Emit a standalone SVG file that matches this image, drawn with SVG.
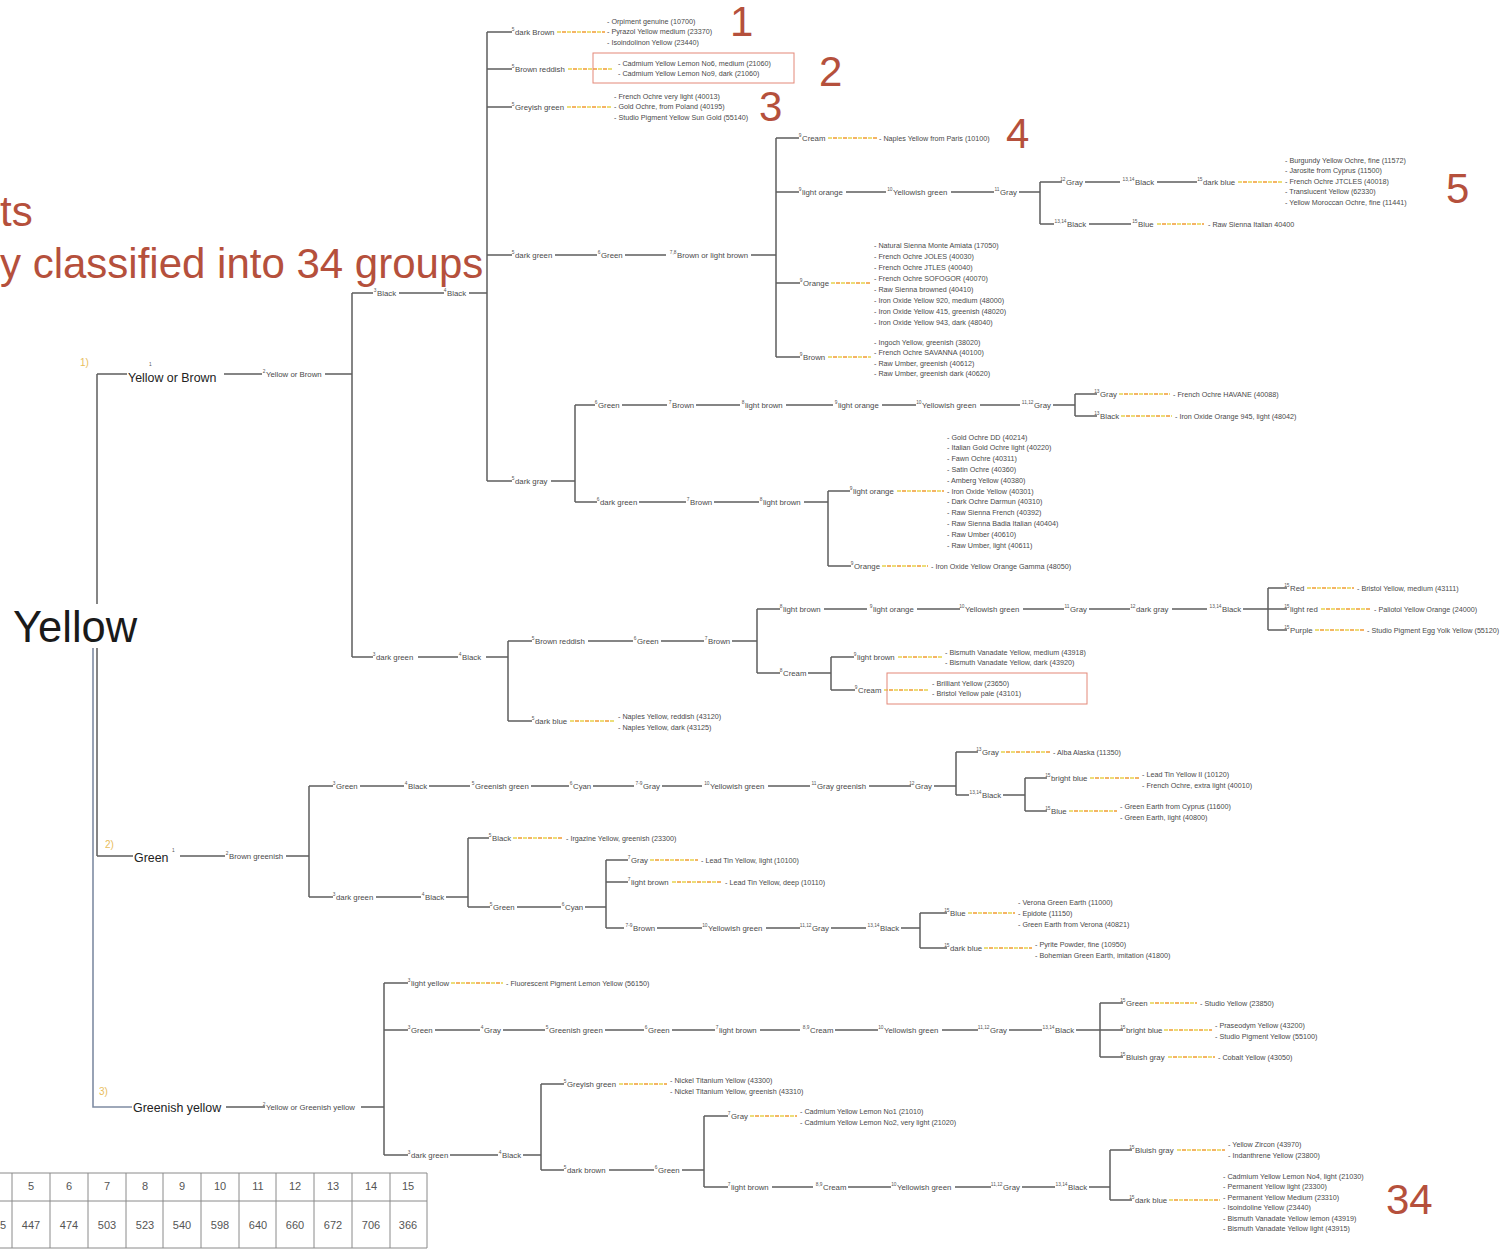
<svg xmlns="http://www.w3.org/2000/svg" width="1508" height="1250" viewBox="0 0 1508 1250">
<style>
text{font-family:"Liberation Sans",Arial,sans-serif}
.e{stroke:#5e5e5e;stroke-width:1.5;fill:none}
.tr{stroke:#7f8ca3;stroke-width:1.6;fill:none}
.dy{stroke:#e6d44c;stroke-width:1.5;fill:none;stroke-dasharray:4 6}
.do{stroke:#f29a34;stroke-width:1.5;fill:none;stroke-dasharray:4 6;stroke-dashoffset:5}
.n{font-size:7.8px;fill:#4a4a4a}
.s{font-size:4.8px;fill:#555;text-anchor:end}
.l{font-size:7.2px;fill:#4a4a4a}
.m{font-size:12.4px;fill:#222}
.o{font-size:10px;fill:#e8bd5c}
.big{font-size:42px;fill:#b5503c}
.tb{font-size:11px;fill:#555;text-anchor:middle}
.box{fill:none;stroke:#e38878;stroke-width:1}
.grid{stroke:#8a8a8a;stroke-width:1;fill:none}
</style>

<!-- heading and group numbers -->
<text class="big" x="0" y="226">ts</text>
<text class="big" x="0" y="278">y classified into 34 groups</text>
<text class="big" x="730" y="36">1</text>
<text class="big" x="819" y="86">2</text>
<text class="big" x="759" y="121">3</text>
<text class="big" x="1006" y="148">4</text>
<text class="big" x="1446" y="203">5</text>
<text class="big" x="1386" y="1214">34</text>

<!-- connectors -->
<g id="connectors">
<path class="e" d="M97 374V856M97 374H127M97 856H133"/>
<path class="tr" d="M93 645V1107H132"/>
<path class="e" d="M224 374H262M325 374H352M352 293V657M352 293H373M399 293H444M469 293H487M487 32V481M487 32H512M487 69H512M487 107H512M487 255H512M555 255H597M625 255H666M751 255H776M776 138V357M776 138H799M776 192H799M846 192H886M951 192H994M1019 192H1040M1040 182V224M1040 182H1062M1085 182H1120M1157 182H1197M1040 224H1054M1089 224H1131M776 283H800M776 357H800M487 481H512M551 481H575M575 405V502M575 405H595M622 405H667M696 405H740M786 405H833M882 405H916M980 405H1020M1053 405H1075M1075 394V416M1075 394H1097M1075 416H1097M575 502H597M639 502H686M714 502H759M804 502H828M828 491V566M828 491H850M828 566H851M352 657H373M418 657H458M486 657H508M508 641V721M508 641H532M588 641H633M661 641H704M732 641H757M757 609V673M757 609H780M824 609H867M917 609H960M1023 609H1064M1089 609H1130M1172 609H1207M1243 609H1268M1268 588V630M1268 588H1287M1268 609H1287M1268 630H1287M757 673H780M808 673H831M831 657V690M831 657H854M831 690H855M508 721H532"/>
<path class="e" d="M180 856H225M286 856H309M309 786V897M309 786H333M360 786H404M429 786H470M531 786H569M593 786H634M662 786H702M768 786H810M869 786H911M934 786H956M956 752V795M956 752H978M956 795H969M1003 795H1025M1025 778V811M1025 778H1047M1025 811H1047M309 897H333M376 897H421M446 897H468M468 838V907M468 838H489M468 907H490M517 907H561M585 907H606M606 860V928M606 860H628M606 882H628M606 928H624M657 928H702M766 928H800M831 928H866M901 928H920M920 913V948M920 913H947M920 948H947"/>
<path class="e" d="M226 1107H265M361 1107H384M384 983V1155M384 983H408M384 1030H408M435 1030H480M503 1030H545M605 1030H644M672 1030H715M760 1030H800M835 1030H878M942 1030H978M1009 1030H1042M1076 1030H1100M1100 1003V1057M1100 1003H1123M1100 1030H1123M1100 1057H1123M384 1155H408M450 1155H498M523 1155H541M541 1084V1170M541 1084H564M541 1170H564M609 1170H654M682 1170H704M704 1116V1187M704 1116H728M704 1187H728M772 1187H813M848 1187H891M955 1187H991M1022 1187H1055M1089 1187H1110M1110 1150V1200M1110 1150H1132M1110 1200H1132"/>
<g class="dy"><g id="dashes"><path d="M557 32H605M568 69H612M567 107H611M828 138H877M1238 182H1282M1157 224H1204M831 283H871M828 357H871M1119 394H1170M1121 416H1172M897 491H944M882 566H928M1307 588H1354M1321 609H1370M1315 630H1364M898 657H942M884 690H929M570 721H614M1001 752H1050M1090 778H1139M1069 811H1117M513 838H563M650 860H698M672 882H722M968 913H1015M984 948H1032M451 983H503M1150 1003H1197M1164 1030H1212M1168 1057H1215M619 1084H667M750 1116H797M1177 1150H1225M1169 1200H1220"/></g></g>
<use href="#dashes" class="do"/>
<rect class="box" x="593" y="53" width="201" height="30"/>
<rect class="box" x="887" y="673" width="200" height="31"/>
</g>

<!-- root -->
<g id="root"><rect x="10" y="604" width="134" height="44" fill="#fff"/><text x="13" y="642" font-size="43.5" fill="#1a1a1a">Yellow</text></g>

<!-- first level -->
<g id="yb"><text class="o" x="80" y="366">1)</text><text x="149" y="366" font-size="4.8" fill="#555">1</text><text class="m" x="128" y="382">Yellow or Brown</text></g>
<g id="gr"><text class="o" x="105" y="848">2)</text><text x="172" y="852" font-size="4.8" fill="#555">1</text><text class="m" x="134" y="862">Green</text></g>
<g id="gy"><text class="o" x="99" y="1095">3)</text><text class="m" x="133" y="1112">Greenish yellow</text></g>

<!-- Yellow or Brown branch -->
<g id="yb-1"><text class="s" x="265.5" y="372.5">2</text><text class="n" x="266" y="376.7">Yellow or Brown</text></g>
<g id="yb-2"><text class="s" x="376.5" y="291.5">3</text><text class="n" x="377" y="295.7">Black</text></g>
<g id="yb-3"><text class="s" x="446.5" y="291.5">4</text><text class="n" x="447" y="295.7">Black</text></g>
<g id="yb-4"><text class="s" x="514.5" y="30.5">5</text><text class="n" x="515" y="34.7">dark Brown</text>
<text class="l" x="607" y="23.5">- Orpiment genuine (10700)</text><text class="l" x="607" y="34">- Pyrazol Yellow medium (23370)</text><text class="l" x="607" y="44.5">- Isoindolinon Yellow (23440)</text></g>
<g id="yb-5"><text class="s" x="514.5" y="67.5">5</text><text class="n" x="515" y="71.7">Brown reddish</text>
<text class="l" x="618" y="65.5">- Cadmium Yellow Lemon No6, medium (21060)</text><text class="l" x="618" y="76">- Cadmium Yellow Lemon No9, dark (21060)</text></g>
<g id="yb-6"><text class="s" x="514.5" y="105.5">5</text><text class="n" x="515" y="109.7">Greyish green</text>
<text class="l" x="614" y="98.5">- French Ochre very light (40013)</text><text class="l" x="614" y="109">- Gold Ochre, from Poland (40195)</text><text class="l" x="614" y="119.5">- Studio Pigment Yellow Sun Gold (55140)</text></g>
<g id="yb-7"><text class="s" x="514.5" y="253.5">5</text><text class="n" x="515" y="257.7">dark green</text></g>
<g id="yb-8"><text class="s" x="600.5" y="253.5">6</text><text class="n" x="601" y="257.7">Green</text></g>
<g id="yb-9"><text class="s" x="676.5" y="253.5">7,8</text><text class="n" x="677" y="257.7">Brown or light brown</text></g>
<g id="yb-10"><text class="s" x="801.5" y="136.5">9</text><text class="n" x="802" y="140.7">Cream</text>
<text class="l" x="879" y="140.5">- Naples Yellow from Paris (10100)</text></g>
<g id="yb-11"><text class="s" x="801.5" y="190.5">9</text><text class="n" x="802" y="194.7">light orange</text></g>
<g id="yb-12"><text class="s" x="892.5" y="190.5">10</text><text class="n" x="893" y="194.7">Yellowish green</text></g>
<g id="yb-13"><text class="s" x="999.5" y="190.5">11</text><text class="n" x="1000" y="194.7">Gray</text></g>
<g id="yb-14"><text class="s" x="1065.5" y="180.5">12</text><text class="n" x="1066" y="184.7">Gray</text></g>
<g id="yb-15"><text class="s" x="1134.5" y="180.5">13,14</text><text class="n" x="1135" y="184.7">Black</text></g>
<g id="yb-16"><text class="s" x="1202.5" y="180.5">15</text><text class="n" x="1203" y="184.7">dark blue</text>
<text class="l" x="1285" y="162.5">- Burgundy Yellow Ochre, fine (11572)</text><text class="l" x="1285" y="173">- Jarosite from Cyprus (11500)</text><text class="l" x="1285" y="183.5">- French Ochre JTCLES (40018)</text><text class="l" x="1285" y="194">- Translucent Yellow (62330)</text><text class="l" x="1285" y="204.5">- Yellow Moroccan Ochre, fine (11441)</text></g>
<g id="yb-17"><text class="s" x="1066.5" y="222.5">13,14</text><text class="n" x="1067" y="226.7">Black</text></g>
<g id="yb-18"><text class="s" x="1137.5" y="222.5">15</text><text class="n" x="1138" y="226.7">Blue</text>
<text class="l" x="1208" y="227">- Raw Sienna Italian 40400</text></g>
<g id="yb-19"><text class="s" x="802.5" y="281.5">9</text><text class="n" x="803" y="285.7">Orange</text>
<text class="l" x="874" y="247.5">- Natural Sienna Monte Amiata (17050)</text><text class="l" x="874" y="258.5">- French Ochre JOLES (40030)</text><text class="l" x="874" y="269.5">- French Ochre JTLES (40040)</text><text class="l" x="874" y="280.5">- French Ochre SOFOGOR (40070)</text><text class="l" x="874" y="291.5">- Raw Sienna browned (40410)</text><text class="l" x="874" y="302.5">- Iron Oxide Yellow 920, medium (48000)</text><text class="l" x="874" y="313.5">- Iron Oxide Yellow 415, greenish (48020)</text><text class="l" x="874" y="324.5">- Iron Oxide Yellow 943, dark (48040)</text></g>
<g id="yb-20"><text class="s" x="802.5" y="355.5">9</text><text class="n" x="803" y="359.7">Brown</text>
<text class="l" x="874" y="344.5">- Ingoch Yellow, greenish (38020)</text><text class="l" x="874" y="355">- French Ochre SAVANNA (40100)</text><text class="l" x="874" y="365.5">- Raw Umber, greenish (40612)</text><text class="l" x="874" y="376">- Raw Umber, greenish dark (40620)</text></g>
<g id="yb-21"><text class="s" x="514.5" y="479.5">5</text><text class="n" x="515" y="483.7">dark gray</text></g>
<g id="yb-22"><text class="s" x="597.5" y="403.5">6</text><text class="n" x="598" y="407.7">Green</text></g>
<g id="yb-23"><text class="s" x="671.5" y="403.5">7</text><text class="n" x="672" y="407.7">Brown</text></g>
<g id="yb-24"><text class="s" x="744.5" y="403.5">8</text><text class="n" x="745" y="407.7">light brown</text></g>
<g id="yb-25"><text class="s" x="837.5" y="403.5">9</text><text class="n" x="838" y="407.7">light orange</text></g>
<g id="yb-26"><text class="s" x="921.5" y="403.5">10</text><text class="n" x="922" y="407.7">Yellowish green</text></g>
<g id="yb-27"><text class="s" x="1033.5" y="403.5">11,12</text><text class="n" x="1034" y="407.7">Gray</text></g>
<g id="yb-28"><text class="s" x="1099.5" y="392.5">13</text><text class="n" x="1100" y="396.7">Gray</text>
<text class="l" x="1173" y="396.5">- French Ochre HAVANE (40088)</text></g>
<g id="yb-29"><text class="s" x="1099.5" y="414.5">13</text><text class="n" x="1100" y="418.7">Black</text>
<text class="l" x="1175" y="418.5">- Iron Oxide Orange 945, light (48042)</text></g>
<g id="yb-30"><text class="s" x="599.5" y="500.5">6</text><text class="n" x="600" y="504.7">dark green</text></g>
<g id="yb-31"><text class="s" x="689.5" y="500.5">7</text><text class="n" x="690" y="504.7">Brown</text></g>
<g id="yb-32"><text class="s" x="762.5" y="500.5">8</text><text class="n" x="763" y="504.7">light brown</text></g>
<g id="yb-33"><text class="s" x="852.5" y="489.5">9</text><text class="n" x="853" y="493.7">light orange</text>
<text class="l" x="947" y="439.5">- Gold Ochre DD (40214)</text><text class="l" x="947" y="450.3">- Italian Gold Ochre light (40220)</text><text class="l" x="947" y="461.1">- Fawn Ochre (40311)</text><text class="l" x="947" y="471.9">- Satin Ochre (40360)</text><text class="l" x="947" y="482.7">- Amberg Yellow (40380)</text><text class="l" x="947" y="493.5">- Iron Oxide Yellow (40301)</text><text class="l" x="947" y="504.3">- Dark Ochre Darmun (40310)</text><text class="l" x="947" y="515.1">- Raw Sienna French (40392)</text><text class="l" x="947" y="525.9">- Raw Sienna Badia Italian (40404)</text><text class="l" x="947" y="536.7">- Raw Umber (40610)</text><text class="l" x="947" y="547.5">- Raw Umber, light (40611)</text></g>
<g id="yb-34"><text class="s" x="853.5" y="564.5">9</text><text class="n" x="854" y="568.7">Orange</text>
<text class="l" x="931" y="568.5">- Iron Oxide Yellow Orange Gamma (48050)</text></g>
<g id="yb-35"><text class="s" x="375.5" y="655.5">3</text><text class="n" x="376" y="659.7">dark green</text></g>
<g id="yb-36"><text class="s" x="461.5" y="655.5">4</text><text class="n" x="462" y="659.7">Black</text></g>
<g id="yb-37"><text class="s" x="534.5" y="639.5">5</text><text class="n" x="535" y="643.7">Brown reddish</text></g>
<g id="yb-38"><text class="s" x="636.5" y="639.5">6</text><text class="n" x="637" y="643.7">Green</text></g>
<g id="yb-39"><text class="s" x="707.5" y="639.5">7</text><text class="n" x="708" y="643.7">Brown</text></g>
<g id="yb-40"><text class="s" x="782.5" y="607.5">8</text><text class="n" x="783" y="611.7">light brown</text></g>
<g id="yb-41"><text class="s" x="872.5" y="607.5">9</text><text class="n" x="873" y="611.7">light orange</text></g>
<g id="yb-42"><text class="s" x="964.5" y="607.5">10</text><text class="n" x="965" y="611.7">Yellowish green</text></g>
<g id="yb-43"><text class="s" x="1069.5" y="607.5">11</text><text class="n" x="1070" y="611.7">Gray</text></g>
<g id="yb-44"><text class="s" x="1135.5" y="607.5">12</text><text class="n" x="1136" y="611.7">dark gray</text></g>
<g id="yb-45"><text class="s" x="1221.5" y="607.5">13,14</text><text class="n" x="1222" y="611.7">Black</text></g>
<g id="yb-46"><text class="s" x="1289.5" y="586.5">15</text><text class="n" x="1290" y="590.7">Red</text>
<text class="l" x="1357" y="590.5">- Bristol Yellow, medium (43111)</text></g>
<g id="yb-47"><text class="s" x="1289.5" y="607.5">15</text><text class="n" x="1290" y="611.7">light red</text>
<text class="l" x="1374" y="611.5">- Paliotol Yellow Orange (24000)</text></g>
<g id="yb-48"><text class="s" x="1289.5" y="628.5">15</text><text class="n" x="1290" y="632.7">Purple</text>
<text class="l" x="1367" y="632.5">- Studio Pigment Egg Yolk Yellow (55120)</text></g>
<g id="yb-49"><text class="s" x="782.5" y="671.5">8</text><text class="n" x="783" y="675.7">Cream</text></g>
<g id="yb-50"><text class="s" x="856.5" y="655.5">9</text><text class="n" x="857" y="659.7">light brown</text>
<text class="l" x="945" y="654.5">- Bismuth Vanadate Yellow, medium (43918)</text><text class="l" x="945" y="665">- Bismuth Vanadate Yellow, dark (43920)</text></g>
<g id="yb-51"><text class="s" x="857.5" y="688.5">9</text><text class="n" x="858" y="692.7">Cream</text>
<text class="l" x="932" y="685.5">- Brilliant Yellow (23650)</text><text class="l" x="932" y="696">- Bristol Yellow pale (43101)</text></g>
<g id="yb-52"><text class="s" x="534.5" y="719.5">5</text><text class="n" x="535" y="723.7">dark blue</text>
<text class="l" x="618" y="719">- Naples Yellow, reddish (43120)</text><text class="l" x="618" y="729.5">- Naples Yellow, dark (43125)</text></g>

<!-- Green branch -->
<g id="gr-1"><text class="s" x="228.5" y="854.5">2</text><text class="n" x="229" y="858.7">Brown greenish</text></g>
<g id="gr-2"><text class="s" x="335.5" y="784.5">3</text><text class="n" x="336" y="788.7">Green</text></g>
<g id="gr-3"><text class="s" x="407.5" y="784.5">4</text><text class="n" x="408" y="788.7">Black</text></g>
<g id="gr-4"><text class="s" x="474.5" y="784.5">5</text><text class="n" x="475" y="788.7">Greenish green</text></g>
<g id="gr-5"><text class="s" x="572.5" y="784.5">6</text><text class="n" x="573" y="788.7">Cyan</text></g>
<g id="gr-6"><text class="s" x="642.5" y="784.5">7-9</text><text class="n" x="643" y="788.7">Gray</text></g>
<g id="gr-7"><text class="s" x="709.5" y="784.5">10</text><text class="n" x="710" y="788.7">Yellowish green</text></g>
<g id="gr-8"><text class="s" x="816.5" y="784.5">11</text><text class="n" x="817" y="788.7">Gray greenish</text></g>
<g id="gr-9"><text class="s" x="914.5" y="784.5">12</text><text class="n" x="915" y="788.7">Gray</text></g>
<g id="gr-10"><text class="s" x="981.5" y="750.5">13</text><text class="n" x="982" y="754.7">Gray</text>
<text class="l" x="1053" y="754.5">- Alba Alaska (11350)</text></g>
<g id="gr-11"><text class="s" x="981.5" y="793.5">13,14</text><text class="n" x="982" y="797.7">Black</text></g>
<g id="gr-12"><text class="s" x="1050.5" y="776.5">15</text><text class="n" x="1051" y="780.7">bright blue</text>
<text class="l" x="1142" y="776.5">- Lead Tin Yellow II (10120)</text><text class="l" x="1142" y="787.5">- French Ochre, extra light (40010)</text></g>
<g id="gr-13"><text class="s" x="1050.5" y="809.5">15</text><text class="n" x="1051" y="813.7">Blue</text>
<text class="l" x="1120" y="808.5">- Green Earth from Cyprus (11600)</text><text class="l" x="1120" y="819.5">- Green Earth, light (40800)</text></g>
<g id="gr-14"><text class="s" x="335.5" y="895.5">3</text><text class="n" x="336" y="899.7">dark green</text></g>
<g id="gr-15"><text class="s" x="424.5" y="895.5">4</text><text class="n" x="425" y="899.7">Black</text></g>
<g id="gr-16"><text class="s" x="491.5" y="836.5">5</text><text class="n" x="492" y="840.7">Black</text>
<text class="l" x="566" y="840.5">- Irgazine Yellow, greenish (23300)</text></g>
<g id="gr-17"><text class="s" x="492.5" y="905.5">5</text><text class="n" x="493" y="909.7">Green</text></g>
<g id="gr-18"><text class="s" x="564.5" y="905.5">6</text><text class="n" x="565" y="909.7">Cyan</text></g>
<g id="gr-19"><text class="s" x="630.5" y="858.5">7</text><text class="n" x="631" y="862.7">Gray</text>
<text class="l" x="701" y="862.5">- Lead Tin Yellow, light (10100)</text></g>
<g id="gr-20"><text class="s" x="630.5" y="880.5">7</text><text class="n" x="631" y="884.7">light brown</text>
<text class="l" x="725" y="884.5">- Lead Tin Yellow, deep (10110)</text></g>
<g id="gr-21"><text class="s" x="632.5" y="926.5">7-9</text><text class="n" x="633" y="930.7">Brown</text></g>
<g id="gr-22"><text class="s" x="707.5" y="926.5">10</text><text class="n" x="708" y="930.7">Yellowish green</text></g>
<g id="gr-23"><text class="s" x="811.5" y="926.5">11,12</text><text class="n" x="812" y="930.7">Gray</text></g>
<g id="gr-24"><text class="s" x="879.5" y="926.5">13,14</text><text class="n" x="880" y="930.7">Black</text></g>
<g id="gr-25"><text class="s" x="949.5" y="911.5">15</text><text class="n" x="950" y="915.7">Blue</text>
<text class="l" x="1018" y="904.5">- Verona Green Earth (11000)</text><text class="l" x="1018" y="915.5">- Epidote (11150)</text><text class="l" x="1018" y="926.5">- Green Earth from Verona (40821)</text></g>
<g id="gr-26"><text class="s" x="949.5" y="946.5">15</text><text class="n" x="950" y="950.7">dark blue</text>
<text class="l" x="1035" y="946.5">- Pyrite Powder, fine (10950)</text><text class="l" x="1035" y="957.5">- Bohemian Green Earth, imitation (41800)</text></g>

<!-- Greenish yellow branch -->
<g id="gy-1"><text class="s" x="265.5" y="1105.5">2</text><text class="n" x="266" y="1109.7">Yellow or Greenish yellow</text></g>
<g id="gy-2"><text class="s" x="410.5" y="981.5">3</text><text class="n" x="411" y="985.7">light yellow</text>
<text class="l" x="506" y="985.5">- Fluorescent Pigment Lemon Yellow (56150)</text></g>
<g id="gy-3"><text class="s" x="410.5" y="1028.5">3</text><text class="n" x="411" y="1032.7">Green</text></g>
<g id="gy-4"><text class="s" x="483.5" y="1028.5">4</text><text class="n" x="484" y="1032.7">Gray</text></g>
<g id="gy-5"><text class="s" x="548.5" y="1028.5">5</text><text class="n" x="549" y="1032.7">Greenish green</text></g>
<g id="gy-6"><text class="s" x="647.5" y="1028.5">6</text><text class="n" x="648" y="1032.7">Green</text></g>
<g id="gy-7"><text class="s" x="718.5" y="1028.5">7</text><text class="n" x="719" y="1032.7">light brown</text></g>
<g id="gy-8"><text class="s" x="809.5" y="1028.5">8,9</text><text class="n" x="810" y="1032.7">Cream</text></g>
<g id="gy-9"><text class="s" x="883.5" y="1028.5">10</text><text class="n" x="884" y="1032.7">Yellowish green</text></g>
<g id="gy-10"><text class="s" x="989.5" y="1028.5">11,12</text><text class="n" x="990" y="1032.7">Gray</text></g>
<g id="gy-11"><text class="s" x="1054.5" y="1028.5">13,14</text><text class="n" x="1055" y="1032.7">Black</text></g>
<g id="gy-12"><text class="s" x="1125.5" y="1001.5">15</text><text class="n" x="1126" y="1005.7">Green</text>
<text class="l" x="1200" y="1005.5">- Studio Yellow (23850)</text></g>
<g id="gy-13"><text class="s" x="1125.5" y="1028.5">15</text><text class="n" x="1126" y="1032.7">bright blue</text>
<text class="l" x="1215" y="1027.5">- Praseodym Yellow (43200)</text><text class="l" x="1215" y="1039">- Studio Pigment Yellow (55100)</text></g>
<g id="gy-14"><text class="s" x="1125.5" y="1055.5">15</text><text class="n" x="1126" y="1059.7">Bluish gray</text>
<text class="l" x="1218" y="1059.5">- Cobalt Yellow (43050)</text></g>
<g id="gy-15"><text class="s" x="410.5" y="1153.5">3</text><text class="n" x="411" y="1157.7">dark green</text></g>
<g id="gy-16"><text class="s" x="501.5" y="1153.5">4</text><text class="n" x="502" y="1157.7">Black</text></g>
<g id="gy-17"><text class="s" x="566.5" y="1082.5">5</text><text class="n" x="567" y="1086.7">Greyish green</text>
<text class="l" x="670" y="1082.5">- Nickel Titanium Yellow (43300)</text><text class="l" x="670" y="1093.5">- Nickel Titanium Yellow, greenish (43310)</text></g>
<g id="gy-18"><text class="s" x="566.5" y="1168.5">5</text><text class="n" x="567" y="1172.7">dark brown</text></g>
<g id="gy-19"><text class="s" x="657.5" y="1168.5">6</text><text class="n" x="658" y="1172.7">Green</text></g>
<g id="gy-20"><text class="s" x="730.5" y="1114.5">7</text><text class="n" x="731" y="1118.7">Gray</text>
<text class="l" x="800" y="1113.5">- Cadmium Yellow Lemon No1 (21010)</text><text class="l" x="800" y="1125">- Cadmium Yellow Lemon No2, very light (21020)</text></g>
<g id="gy-21"><text class="s" x="730.5" y="1185.5">7</text><text class="n" x="731" y="1189.7">light brown</text></g>
<g id="gy-22"><text class="s" x="822.5" y="1185.5">8,9</text><text class="n" x="823" y="1189.7">Cream</text></g>
<g id="gy-23"><text class="s" x="896.5" y="1185.5">10</text><text class="n" x="897" y="1189.7">Yellowish green</text></g>
<g id="gy-24"><text class="s" x="1002.5" y="1185.5">11,12</text><text class="n" x="1003" y="1189.7">Gray</text></g>
<g id="gy-25"><text class="s" x="1067.5" y="1185.5">13,14</text><text class="n" x="1068" y="1189.7">Black</text></g>
<g id="gy-26"><text class="s" x="1134.5" y="1148.5">15</text><text class="n" x="1135" y="1152.7">Bluish gray</text>
<text class="l" x="1228" y="1146.5">- Yellow Zircon (43970)</text><text class="l" x="1228" y="1157.5">- Indanthrene Yellow (23800)</text></g>
<g id="gy-27"><text class="s" x="1134.5" y="1198.5">15</text><text class="n" x="1135" y="1202.7">dark blue</text>
<text class="l" x="1223" y="1178.5">- Cadmium Yellow Lemon No4, light (21030)</text><text class="l" x="1223" y="1189">- Permanent Yellow light (23300)</text><text class="l" x="1223" y="1199.5">- Permanent Yellow Medium (23310)</text><text class="l" x="1223" y="1210">- Isoindoline Yellow (23440)</text><text class="l" x="1223" y="1220.5">- Bismuth Vanadate Yellow lemon (43919)</text><text class="l" x="1223" y="1231">- Bismuth Vanadate Yellow light (43915)</text></g>

<!-- wavelength table -->
<g id="table">
<path class="grid" d="M0 1173H427M0 1201H427M0 1248H427M12 1173V1248M50 1173V1248M88 1173V1248M126 1173V1248M163 1173V1248M201 1173V1248M239 1173V1248M276 1173V1248M314 1173V1248M352 1173V1248M390 1173V1248M427 1173V1248"/>
<text class="tb" x="31" y="1190">5</text><text class="tb" x="69" y="1190">6</text><text class="tb" x="107" y="1190">7</text><text class="tb" x="145" y="1190">8</text><text class="tb" x="182" y="1190">9</text><text class="tb" x="220" y="1190">10</text><text class="tb" x="258" y="1190">11</text><text class="tb" x="295" y="1190">12</text><text class="tb" x="333" y="1190">13</text><text class="tb" x="371" y="1190">14</text><text class="tb" x="408" y="1190">15</text>
<text x="0" y="1229" font-size="11" fill="#555">5</text>
<text class="tb" x="31" y="1229">447</text><text class="tb" x="69" y="1229">474</text><text class="tb" x="107" y="1229">503</text><text class="tb" x="145" y="1229">523</text><text class="tb" x="182" y="1229">540</text><text class="tb" x="220" y="1229">598</text><text class="tb" x="258" y="1229">640</text><text class="tb" x="295" y="1229">660</text><text class="tb" x="333" y="1229">672</text><text class="tb" x="371" y="1229">706</text><text class="tb" x="408" y="1229">366</text>
</g>
</svg>
